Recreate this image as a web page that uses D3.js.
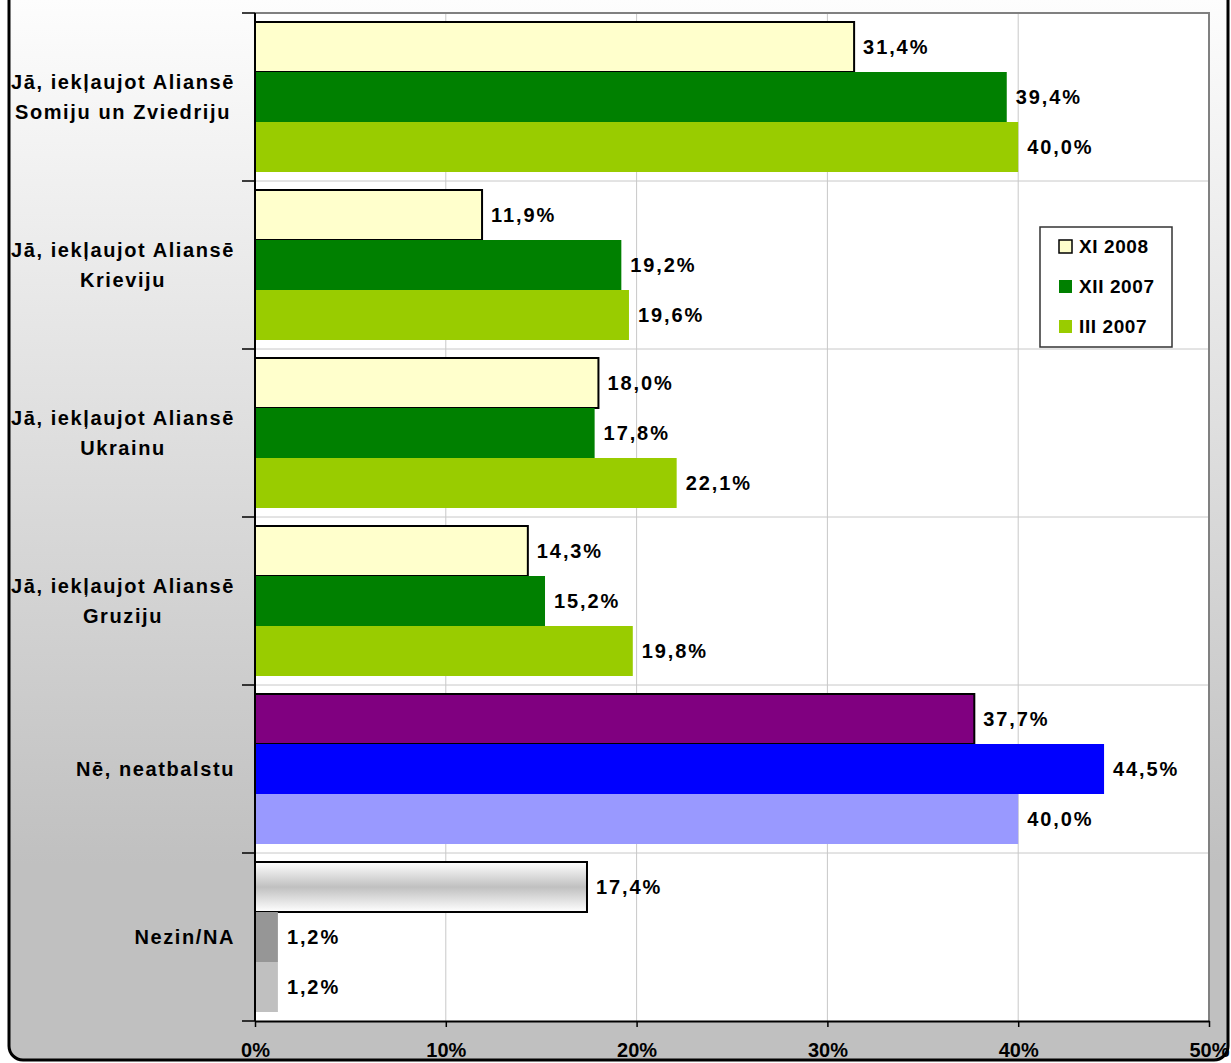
<!DOCTYPE html>
<meta charset="utf-8">
<script src="https://d3js.org/d3.v7.min.js"></script>
<style>
  body { margin: 0; background: #fff; }
  svg text { font-family: 'Liberation Sans', Arial, sans-serif; font-weight: bold; fill: #000; }
</style>
<div id="chart"></div>
<script>

var categories = [
  ["Jā, iekļaujot Aliansē", "Somiju un Zviedriju"],
  ["Jā, iekļaujot Aliansē", "Krieviju"],
  ["Jā, iekļaujot Aliansē", "Ukrainu"],
  ["Jā, iekļaujot Aliansē", "Gruziju"],
  ["Nē, neatbalstu"],
  ["Nezin/NA"]
];
var seriesNames = ["XI 2008", "XII 2007", "III 2007"];
var xi2008  = [31.4, 11.9, 18.0, 14.3, 37.7, 17.4];
var xii2007 = [39.4, 19.2, 17.8, 15.2, 44.5, 1.2];
var iii2007 = [40.0, 19.6, 22.1, 19.8, 40.0, 1.2];
var xTicks = [0, 10, 20, 30, 40, 50];

// colours: default per series, then the two categories that Excel painted differently
var seriesColors = ["#ffffcc", "#008000", "#99cc00"];
var nColors = ["#800080", "#0000ff", "#9999ff"];
var naColors = ["url(#silver)", "#969696", "#c0c0c0"];

var W = 1231, H = 1063;
var margin = {top: 13, right: 22, bottom: 42, left: 255};
var width = W - margin.left - margin.right,
    height = H - margin.top - margin.bottom;

var svg = d3.select("#chart").append("svg")
    .attr("width", W)
    .attr("height", H);

var defs = svg.append("defs");
var bg = defs.append("linearGradient").attr("id", "bg")
    .attr("x1", 0).attr("y1", 0).attr("x2", 0).attr("y2", 1);
bg.append("stop").attr("offset", "0%").attr("stop-color", "#ffffff");
bg.append("stop").attr("offset", "82%").attr("stop-color", "#c0c0c0");
bg.append("stop").attr("offset", "100%").attr("stop-color", "#c0c0c0");

var silver = defs.append("linearGradient").attr("id", "silver")
    .attr("x1", 0).attr("y1", 0).attr("x2", 0).attr("y2", 1);
silver.append("stop").attr("offset", "0%").attr("stop-color", "#ffffff");
silver.append("stop").attr("offset", "50%").attr("stop-color", "#c0c0c0");
silver.append("stop").attr("offset", "100%").attr("stop-color", "#ffffff");

// chart area background + rounded frame
svg.append("rect")
    .attr("x", 9).attr("y", -30)
    .attr("width", 1219).attr("height", 1090)
    .attr("rx", 14)
    .attr("fill", "url(#bg)")
    .attr("stroke", "#000")
    .attr("stroke-width", 3);

var g = svg.append("g")
    .attr("transform", "translate(" + margin.left + "," + margin.top + ")");

var x = d3.scaleLinear().domain([0, 50]).range([0, width]);

var y = d3.scaleBand()
    .domain(d3.range(categories.length))
    .range([0, height]);

var ySub = d3.scaleBand()
    .domain(d3.range(seriesNames.length))
    .range([0, y.bandwidth()])
    .paddingOuter(0.18);

g.append("rect")
    .attr("width", width).attr("height", height)
    .attr("fill", "#fff");

// gridlines
g.append("g").selectAll("line")
    .data(xTicks.slice(1, -1))
    .enter().append("line")
    .attr("x1", d => x(d)).attr("x2", d => x(d))
    .attr("y1", 0).attr("y2", height)
    .attr("stroke", "#c8c8c8").attr("stroke-width", 1);

g.append("g").selectAll("line")
    .data(d3.range(1, categories.length))
    .enter().append("line")
    .attr("x1", 0).attr("x2", width)
    .attr("y1", d => y(d)).attr("y2", d => y(d))
    .attr("stroke", "#c8c8c8").attr("stroke-width", 1);

// plot border (top/right)
g.append("path")
    .attr("d", "M0,0H" + width + "V" + height)
    .attr("fill", "none").attr("stroke", "#808080").attr("stroke-width", 2);

var rows = categories.map(function(c, i) {
  var cols = i === 4 ? nColors : (i === 5 ? naColors : seriesColors);
  return [xi2008[i], xii2007[i], iii2007[i]].map(function(v, s) {
    return {cat: i, s: s, value: v, color: cols[s], outline: s === 0};
  });
});

var groups = g.selectAll(".cat")
    .data(rows)
    .enter().append("g")
    .attr("class", "cat")
    .attr("transform", (d, i) => "translate(0," + y(i) + ")");

groups.selectAll("rect")
    .data(d => d)
    .enter().append("rect")
    .attr("x", x(0))
    .attr("y", d => ySub(d.s))
    .attr("width", d => x(d.value) - x(0))
    .attr("height", ySub.bandwidth())
    .attr("fill", d => d.color)
    .attr("stroke", d => d.outline ? "#000" : "none")
    .attr("stroke-width", 2);

groups.selectAll("text.val")
    .data(d => d)
    .enter().append("text")
    .attr("class", "val")
    .attr("x", d => x(d.value) + 9)
    .attr("y", d => ySub(d.s) + ySub.bandwidth() / 2)
    .attr("dy", "0.36em")
    .style("font-size", "20px")
    .style("letter-spacing", "1.9px")
    .text(d => d3.format(".1f")(d.value).replace(".", ",") + "%");

// axes
var xAxis = g.append("g")
    .attr("transform", "translate(0," + height + ")")
    .call(d3.axisBottom(x).tickValues(xTicks).tickFormat(d => d + "%").tickSizeInner(6).tickSizeOuter(0));
xAxis.select(".domain").attr("stroke", "#000").attr("stroke-width", 2);
xAxis.selectAll(".tick line").attr("stroke", "#000").attr("stroke-width", 1.5);
xAxis.selectAll(".tick text")
    .attr("y", 22).attr("dy", "0.71em")
    .style("font-size", "20px")
    .style("font-family", "'Liberation Sans', Arial, sans-serif");

g.append("line")
    .attr("x1", 0).attr("x2", 0).attr("y1", 0).attr("y2", height)
    .attr("stroke", "#000").attr("stroke-width", 2);
g.append("g").selectAll("line")
    .data(d3.range(categories.length + 1))
    .enter().append("line")
    .attr("x1", -13).attr("x2", 0)
    .attr("y1", d => d === categories.length ? height : y(d))
    .attr("y2", d => d === categories.length ? height : y(d))
    .attr("stroke", "#000").attr("stroke-width", 1.5);

// category labels
var labelRight = -20;
categories.forEach(function(lines, i) {
  var t = g.append("text")
      .style("font-size", "20px")
      .style("letter-spacing", "1.6px")
      .attr("text-anchor", "middle");
  var cy = y(i) + y.bandwidth() / 2;
  var lh = 30;
  lines.forEach(function(l, k) {
    t.append("tspan")
      .attr("y", cy + (k - (lines.length - 1) / 2) * lh)
      .attr("dy", "0.36em")
      .text(l);
  });
  var maxW = 0;
  t.selectAll("tspan").each(function() { maxW = Math.max(maxW, this.getComputedTextLength()); });
  t.selectAll("tspan").attr("x", labelRight - maxW / 2);
});

// legend
var legend = svg.append("g").attr("transform", "translate(1040,227)");
legend.append("rect")
    .attr("width", 132).attr("height", 120)
    .attr("fill", "#fff").attr("stroke", "#333").attr("stroke-width", 1.5);
var li = legend.selectAll(".li")
    .data(seriesNames)
    .enter().append("g")
    .attr("transform", (d, i) => "translate(0," + (19 + i * 40) + ")");
li.append("rect")
    .attr("x", 19).attr("y", -6)
    .attr("width", 13).attr("height", 13)
    .attr("fill", (d, i) => seriesColors[i])
    .attr("stroke", (d, i) => i === 0 ? "#000" : "none")
    .attr("stroke-width", 1.5);
li.append("text")
    .attr("x", 39).attr("dy", "0.36em")
    .style("font-size", "19px")
    .style("letter-spacing", "0.6px")
    .text(d => d);

</script>
